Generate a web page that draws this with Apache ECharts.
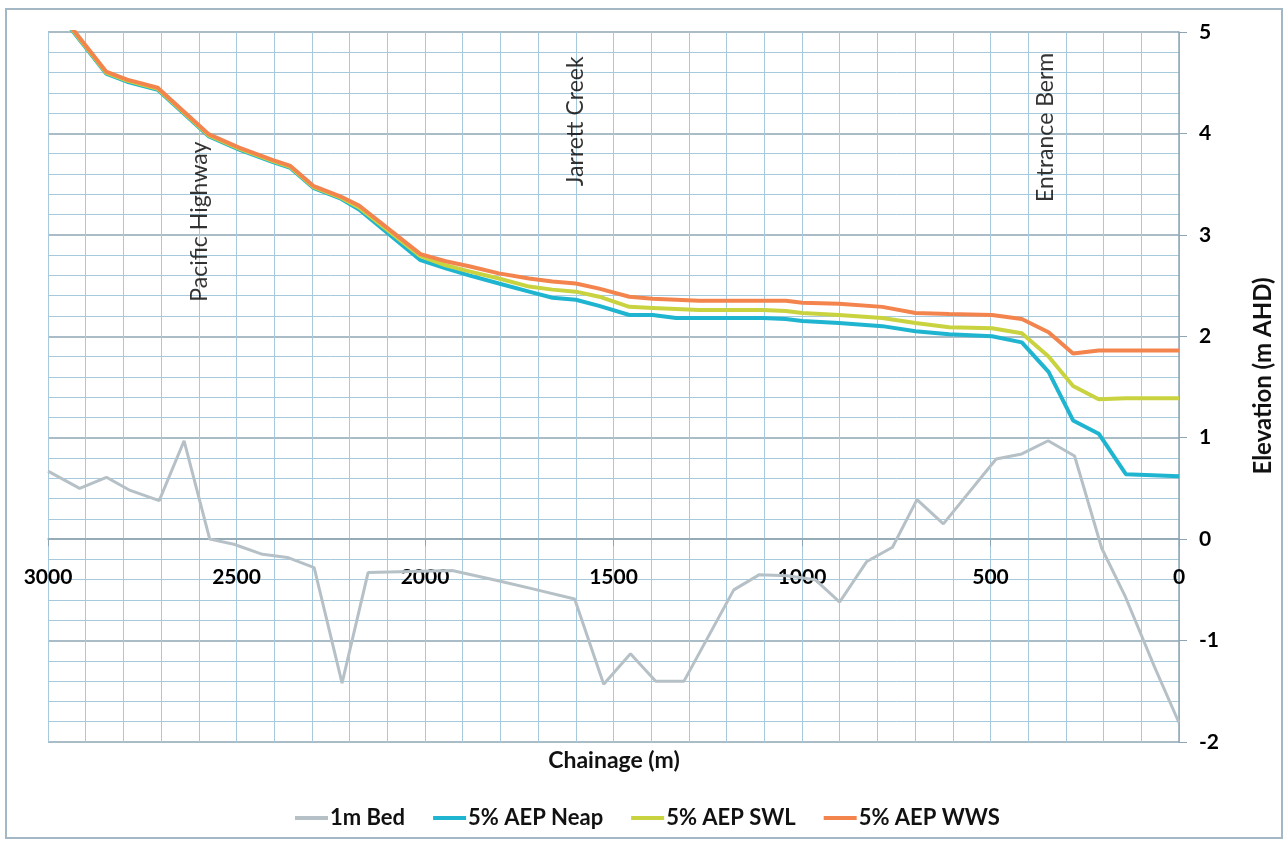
<!DOCTYPE html>
<html>
<head>
<meta charset="utf-8">
<title>Elevation profile</title>
<script src="https://cdn.jsdelivr.net/npm/echarts@6/dist/echarts.min.js"></script>
<style>
  html, body { margin: 0; padding: 0; background: #fff; }
  #chart { width: 1286px; height: 841px; }
</style>
</head>
<body>
<div id="chart"></div>
<script>
// water levels, all three share the same chainages
const chainageWater = [3000, 2846, 2790, 2709, 2573, 2493, 2405, 2357, 2295, 2225, 2175, 2012, 1945, 1883, 1804, 1724, 1662, 1600, 1538, 1458, 1396, 1334, 1273, 1200, 1105, 1043, 999, 902, 787, 699, 610, 496, 417, 346, 281, 213, 141, 0];
const neap = [5.32, 4.59, 4.51, 4.43, 3.97, 3.84, 3.72, 3.66, 3.46, 3.36, 3.25, 2.75, 2.67, 2.60, 2.52, 2.44, 2.38, 2.36, 2.30, 2.21, 2.21, 2.18, 2.18, 2.18, 2.18, 2.17, 2.15, 2.13, 2.10, 2.05, 2.02, 2.00, 1.94, 1.65, 1.17, 1.04, 0.64, 0.62];
const swl = [5.33, 4.60, 4.52, 4.44, 3.98, 3.85, 3.73, 3.67, 3.47, 3.37, 3.27, 2.79, 2.70, 2.64, 2.57, 2.49, 2.46, 2.44, 2.39, 2.29, 2.28, 2.27, 2.26, 2.26, 2.26, 2.25, 2.23, 2.21, 2.18, 2.13, 2.09, 2.08, 2.03, 1.80, 1.51, 1.38, 1.39, 1.39];
const wws = [5.34, 4.61, 4.53, 4.45, 3.99, 3.86, 3.74, 3.68, 3.48, 3.38, 3.29, 2.81, 2.74, 2.69, 2.62, 2.57, 2.54, 2.52, 2.47, 2.39, 2.37, 2.36, 2.35, 2.35, 2.35, 2.35, 2.33, 2.32, 2.29, 2.23, 2.22, 2.21, 2.17, 2.04, 1.83, 1.86, 1.86, 1.86];

// bed survey
const chainageBed = [3000, 2916, 2845, 2782, 2705, 2639, 2571, 2507, 2431, 2365, 2294, 2220, 2151, 1928, 1806, 1714, 1603, 1526, 1455, 1388, 1313, 1181, 1113, 1040, 965, 900, 828, 760, 695, 625, 485, 417, 347, 277, 205, 142, 65, 0];
const bed = [0.67, 0.50, 0.61, 0.48, 0.38, 0.97, 0.00, -0.05, -0.15, -0.18, -0.28, -1.42, -0.33, -0.31, -0.41, -0.49, -0.59, -1.43, -1.13, -1.40, -1.40, -0.50, -0.35, -0.36, -0.40, -0.62, -0.22, -0.08, 0.39, 0.15, 0.79, 0.84, 0.97, 0.82, -0.09, -0.57, -1.26, -1.81];

// place names written on the chart
const noteNames = ['Pacific Highway', 'Jarrett Creek', 'Entrance Berm'];
const noteChainage = [2597, 1600, 355];
const noteLevel = [3.13, 4.12, 4.06];

const seriesNames = ['1m Bed', '5% AEP Neap', '5% AEP SWL', '5% AEP WWS'];
const colors = ['#b6c1c7', '#1fb5d0', '#c9d33f', '#f4844d'];

const FONT = 'Lato, "Liberation Sans", sans-serif';
const gridMajor = '#8ea6b3';
const gridMinor = '#a6cadb';

const yMin = -2, yMax = 5;
const gridTop = 32, gridBottom = 99, chartHeight = 841;

function zip(xs, ys) {
  return xs.map((x, i) => [x, ys[i]]);
}

const chart = echarts.init(document.getElementById('chart'));

function lineSeries(name, xs, ys, color, width) {
  return {
    name: name,
    type: 'line',
    data: zip(xs, ys),
    symbol: 'none',
    clip: true,
    lineStyle: { color: color, width: width },
    itemStyle: { color: color }
  };
}

// the chainage axis sits on elevation 0, lift it from the bottom of the grid
const plotHeight = chartHeight - gridTop - gridBottom;
const zeroLift = plotHeight * (0 - yMin) / (yMax - yMin);

const option = {
  backgroundColor: '#ffffff',
  animation: false,
  grid: { left: 48, right: 107, top: gridTop, bottom: gridBottom },
  legend: {
    data: seriesNames,
    left: 290,
    top: 802,
    icon: 'rect',
    itemWidth: 33,
    itemHeight: 4,
    itemGap: 28,
    textStyle: { fontFamily: FONT, fontSize: 22, fontWeight: 'bold', color: '#111', padding: [0, 0, 0, -3] }
  },
  xAxis: {
    type: 'value',
    inverse: true,
    min: 0,
    max: 3000,
    interval: 500,
    offset: -zeroLift,
    axisLine: { show: true, onZero: false, lineStyle: { color: gridMajor, width: 1.5 } },
    axisTick: { show: true, length: 7, lineStyle: { color: gridMajor } },
    axisLabel: {
      margin: 28,
      fontFamily: FONT,
      fontSize: 21,
      fontWeight: 'bold',
      color: '#000',
      formatter: function (v) { return String(v); }
    },
    splitLine: { show: true, lineStyle: { color: gridMinor, width: 1 } },
    minorTick: { show: false, splitNumber: 5 },
    minorSplitLine: { show: true, lineStyle: { color: gridMinor, width: 1 } }
  },
  yAxis: {
    type: 'value',
    position: 'right',
    min: yMin,
    max: yMax,
    interval: 1,
    name: 'Elevation (m AHD)',
    nameLocation: 'middle',
    nameRotate: 90,
    nameGap: 72,
    nameTextStyle: { fontFamily: FONT, fontSize: 24, fontWeight: 'bold', color: '#111', padding: [0, 0, 0, 22] },
    axisLine: { show: true, onZero: false, lineStyle: { color: gridMajor, width: 1.5 } },
    axisTick: { show: true, length: 8, lineStyle: { color: gridMajor } },
    axisLabel: { margin: 20, fontFamily: FONT, fontSize: 21, fontWeight: 'bold', color: '#000', align: 'left' },
    splitLine: { show: true, lineStyle: { color: gridMajor, width: 1.5 } },
    minorTick: { show: false, splitNumber: 5 },
    minorSplitLine: { show: true, lineStyle: { color: gridMinor, width: 1 } }
  },
  graphic: [
    // outer frame of the chart
    {
      type: 'rect',
      shape: { x: 6, y: 9, width: 1276, height: 829 },
      style: { fill: null, stroke: '#a3b8c4', lineWidth: 2 },
      silent: true
    },
    {
      type: 'text',
      x: 614,
      y: 761,
      style: { text: 'Chainage (m)', fontFamily: FONT, fontSize: 23, fontWeight: 'bold', fill: '#111', align: 'center', verticalAlign: 'middle' }
    }
  ],
  series: [
    lineSeries(seriesNames[0], chainageBed, bed, colors[0], 3),
    lineSeries(seriesNames[1], chainageWater, neap, colors[1], 4),
    lineSeries(seriesNames[2], chainageWater, swl, colors[2], 4),
    lineSeries(seriesNames[3], chainageWater, wws, colors[3], 4),
    {
      name: 'notes',
      type: 'scatter',
      symbolSize: 0,
      silent: true,
      data: noteNames.map((n, i) => ({ name: n, value: [noteChainage[i], noteLevel[i]] })),
      label: {
        show: true,
        position: 'inside',
        rotate: 90,
        formatter: '{b}',
        fontFamily: FONT,
        fontSize: 23,
        color: '#000'
      }
    }
  ]
};

chart.setOption(option);
</script>
</body>
</html>
